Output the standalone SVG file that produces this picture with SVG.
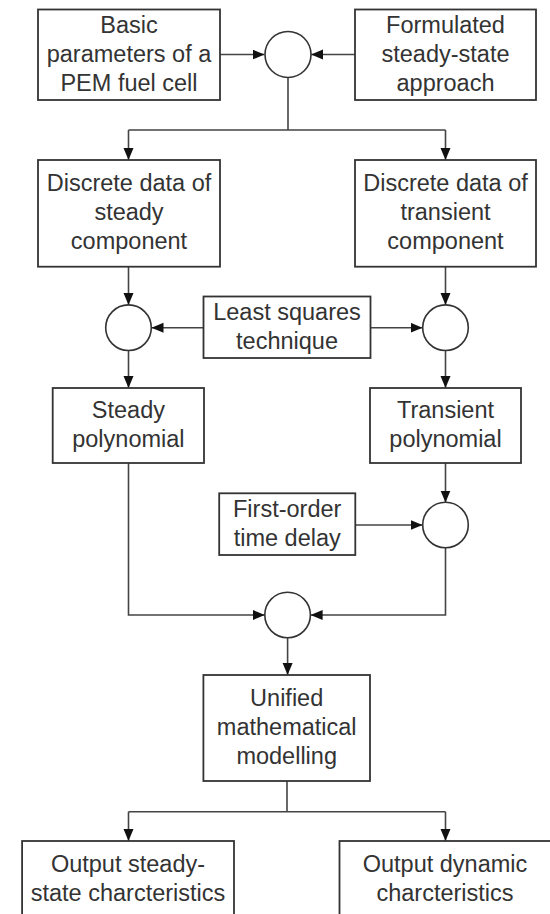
<svg xmlns="http://www.w3.org/2000/svg" width="550" height="914" viewBox="0 0 550 914">
<style>
.box{fill:#fff;stroke:#333;stroke-width:1.8}
.sum{fill:#fff;stroke:#333;stroke-width:1.6}
.lbl{font-family:"Liberation Sans",Arial,sans-serif;font-size:23.5px;fill:#333;text-anchor:middle}
.con{fill:none;stroke:#444;stroke-width:1.6}
</style>
<defs>
<marker id="ah" markerUnits="userSpaceOnUse" markerWidth="13" markerHeight="11" refX="12" refY="5" orient="auto">
<path d="M0,0 L12,5 L0,10 z" fill="#111"/>
</marker>
</defs>
<rect width="550" height="914" fill="#fff"/>
<g id="connectors">
<path class="con" d="M220,54.5 H264.5" marker-end="url(#ah)"/>
<path class="con" d="M355,54.5 H311" marker-end="url(#ah)"/>
<path class="con" d="M288,77.5 V130 M128.5,130 H445.5"/>
<path class="con" d="M128.5,130 V160" marker-end="url(#ah)"/>
<path class="con" d="M445.5,130 V160" marker-end="url(#ah)"/>
<path class="con" d="M128.5,266.7 V305" marker-end="url(#ah)"/>
<path class="con" d="M445.5,266.7 V305" marker-end="url(#ah)"/>
<path class="con" d="M203.5,327.7 H151.5" marker-end="url(#ah)"/>
<path class="con" d="M370.5,327.7 H422.5" marker-end="url(#ah)"/>
<path class="con" d="M128.5,350.5 V388" marker-end="url(#ah)"/>
<path class="con" d="M445.5,350.5 V388" marker-end="url(#ah)"/>
<path class="con" d="M445.5,463 V502.5" marker-end="url(#ah)"/>
<path class="con" d="M355.3,525 H422.5" marker-end="url(#ah)"/>
<path class="con" d="M128.5,463 V615 H264.8" marker-end="url(#ah)"/>
<path class="con" d="M445.5,547.5 V615 H310.6" marker-end="url(#ah)"/>
<path class="con" d="M287.6,637.5 V675" marker-end="url(#ah)"/>
<path class="con" d="M287,781 V811.7 M128.5,811.7 H445.5"/>
<path class="con" d="M128.5,811.7 V841" marker-end="url(#ah)"/>
<path class="con" d="M445.5,811.7 V841" marker-end="url(#ah)"/>
</g>
<g id="basic">
<rect class="box" x="38" y="9.5" width="182" height="90.5"/>
<text class="lbl" x="129" y="32.8">Basic</text>
<text class="lbl" x="129" y="61.8">parameters of a</text>
<text class="lbl" x="129" y="90.8">PEM fuel cell</text>
</g>
<g id="formulated">
<rect class="box" x="355" y="9.5" width="181" height="90.5"/>
<text class="lbl" x="445.5" y="32.8">Formulated</text>
<text class="lbl" x="445.5" y="61.8">steady-state</text>
<text class="lbl" x="445.5" y="90.8">approach</text>
</g>
<g id="sum1"><circle class="sum" cx="288" cy="54.5" r="23"/></g>
<g id="discrete-steady">
<rect class="box" x="38" y="160" width="182" height="106.7"/>
<text class="lbl" x="129" y="191.3">Discrete data of</text>
<text class="lbl" x="129" y="220.3">steady</text>
<text class="lbl" x="129" y="249.3">component</text>
</g>
<g id="discrete-transient">
<rect class="box" x="355" y="160" width="181" height="106.7"/>
<text class="lbl" x="445.5" y="191.3">Discrete data of</text>
<text class="lbl" x="445.5" y="220.3">transient</text>
<text class="lbl" x="445.5" y="249.3">component</text>
</g>
<g id="sum2"><circle class="sum" cx="128.5" cy="327.7" r="22.8"/></g>
<g id="sum3"><circle class="sum" cx="445.5" cy="327.7" r="22.8"/></g>
<g id="least-squares">
<rect class="box" x="203.5" y="296.5" width="167" height="61.5"/>
<text class="lbl" x="287" y="319.6">Least squares</text>
<text class="lbl" x="287" y="348.6">technique</text>
</g>
<g id="steady-poly">
<rect class="box" x="52.7" y="388" width="151.3" height="75"/>
<text class="lbl" x="128.4" y="418">Steady</text>
<text class="lbl" x="128.4" y="447">polynomial</text>
</g>
<g id="transient-poly">
<rect class="box" x="370" y="388" width="151" height="75"/>
<text class="lbl" x="445.5" y="418">Transient</text>
<text class="lbl" x="445.5" y="447">polynomial</text>
</g>
<g id="sum4"><circle class="sum" cx="445.5" cy="525" r="22.8"/></g>
<g id="first-order">
<rect class="box" x="219.2" y="493.3" width="136.1" height="61.7"/>
<text class="lbl" x="287.2" y="516.6">First-order</text>
<text class="lbl" x="287.2" y="545.6">time delay</text>
</g>
<g id="sum5"><circle class="sum" cx="287.6" cy="615" r="22.8"/></g>
<g id="unified">
<rect class="box" x="203.4" y="675" width="166.6" height="106"/>
<text class="lbl" x="286.7" y="706">Unified</text>
<text class="lbl" x="286.7" y="735">mathematical</text>
<text class="lbl" x="286.7" y="764">modelling</text>
</g>
<g id="out-steady">
<rect class="box" x="22.1" y="841" width="211.9" height="85"/>
<text class="lbl" x="128" y="872">Output steady-</text>
<text class="lbl" x="128" y="901">state charcteristics</text>
</g>
<g id="out-dynamic">
<rect class="box" x="339.5" y="841" width="222" height="85"/>
<text class="lbl" x="445" y="872">Output dynamic</text>
<text class="lbl" x="445" y="901">charcteristics</text>
</g>
</svg>
